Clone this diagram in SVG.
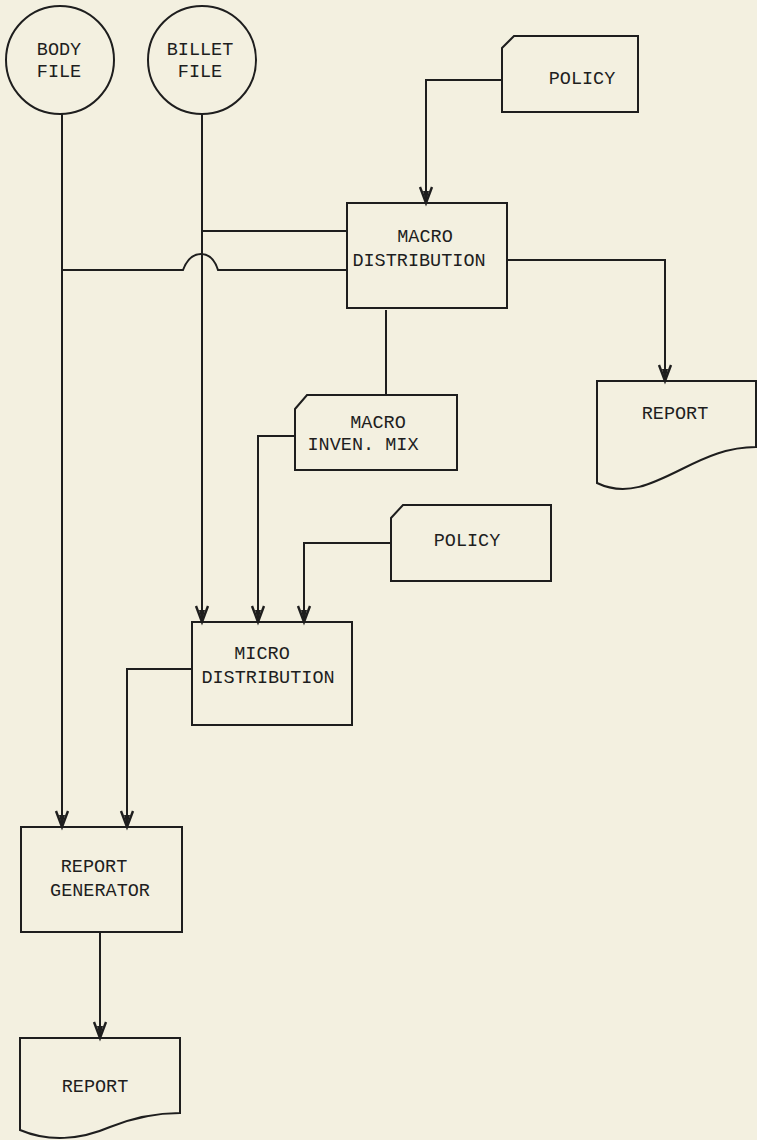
<svg xmlns="http://www.w3.org/2000/svg" width="757" height="1140" viewBox="0 0 757 1140">
  <style>
    .shape { fill: none; stroke: #1e1e1e; stroke-width: 2; }
    .conn { fill: none; stroke: #1e1e1e; stroke-width: 2; }
    .lbl { font-family: "Liberation Mono", "Courier New", monospace; font-size: 18.5px; fill: #1e1e1e; text-anchor: middle; }
  </style>
  <defs>
    <marker id="arrow" markerUnits="userSpaceOnUse" orient="auto" markerWidth="20" markerHeight="16" viewBox="-16 -8 18 16" refX="0" refY="0" overflow="visible">
      <path d="M -16 -6 L 0 0 L -16 6" fill="none" stroke="#1e1e1e" stroke-width="2.4"/>
      <path d="M -12 -3 L 0 0 L -12 3 Z" fill="#1e1e1e"/>
    </marker>
  </defs>
  <rect x="0" y="0" width="757" height="1140" fill="#f3f0e0"/>

  <g id="connectors">
    <path class="conn" d="M 502 80 H 426 V 203" marker-end="url(#arrow)"/>
    <path class="conn" d="M 202 231 H 347"/>
    <path class="conn" d="M 62 270 H 183 Q 189 254 201 254 Q 213 254 218 270 H 347"/>
    <path class="conn" d="M 62 114 V 827" marker-end="url(#arrow)"/>
    <path class="conn" d="M 202 114 V 622" marker-end="url(#arrow)"/>
    <path class="conn" d="M 507 260 H 665 V 381" marker-end="url(#arrow)"/>
    <path class="conn" d="M 386 310 V 395"/>
    <path class="conn" d="M 295 436 H 258 V 622" marker-end="url(#arrow)"/>
    <path class="conn" d="M 391 543 H 304 V 622" marker-end="url(#arrow)"/>
    <path class="conn" d="M 192 669 H 127 V 827" marker-end="url(#arrow)"/>
    <path class="conn" d="M 100 932 V 1038" marker-end="url(#arrow)"/>
  </g>

  <g id="body-file">
    <circle class="shape" cx="60" cy="60" r="54"/>
    <text class="lbl" x="59" y="55">BODY</text>
    <text class="lbl" x="59" y="77">FILE</text>
  </g>

  <g id="billet-file">
    <circle class="shape" cx="202" cy="60" r="54"/>
    <text class="lbl" x="200" y="55">BILLET</text>
    <text class="lbl" x="200" y="77">FILE</text>
  </g>

  <g id="policy-1">
    <path class="shape" d="M 502 48 L 514 36 H 638 V 112 H 502 Z"/>
    <text class="lbl" x="582" y="84">POLICY</text>
  </g>

  <g id="macro-distribution">
    <rect class="shape" x="347" y="203" width="160" height="105"/>
    <text class="lbl" x="425" y="242">MACRO</text>
    <text class="lbl" x="419" y="266">DISTRIBUTION</text>
  </g>

  <g id="report-1">
    <path class="shape" d="M 597 381 H 756 V 447 C 728 447 706 457 682 469 C 652 484 626 497 597 483 Z"/>
    <text class="lbl" x="675" y="419">REPORT</text>
  </g>

  <g id="macro-inven-mix">
    <path class="shape" d="M 295 409 L 307 395 H 457 V 470 H 295 Z"/>
    <text class="lbl" x="378" y="428">MACRO</text>
    <text class="lbl" x="363" y="450">INVEN. MIX</text>
  </g>

  <g id="policy-2">
    <path class="shape" d="M 391 518 L 403 505 H 551 V 581 H 391 Z"/>
    <text class="lbl" x="467" y="546">POLICY</text>
  </g>

  <g id="micro-distribution">
    <rect class="shape" x="192" y="622" width="160" height="103"/>
    <text class="lbl" x="262" y="659">MICRO</text>
    <text class="lbl" x="268" y="683">DISTRIBUTION</text>
  </g>

  <g id="report-generator">
    <rect class="shape" x="21" y="827" width="161" height="105"/>
    <text class="lbl" x="94" y="872">REPORT</text>
    <text class="lbl" x="100" y="896">GENERATOR</text>
  </g>

  <g id="report-2">
    <path class="shape" d="M 20 1038 H 180 V 1113 C 155 1113 135 1117 110 1127 C 80 1140 48 1142 20 1130 Z"/>
    <text class="lbl" x="95" y="1092">REPORT</text>
  </g>
</svg>
